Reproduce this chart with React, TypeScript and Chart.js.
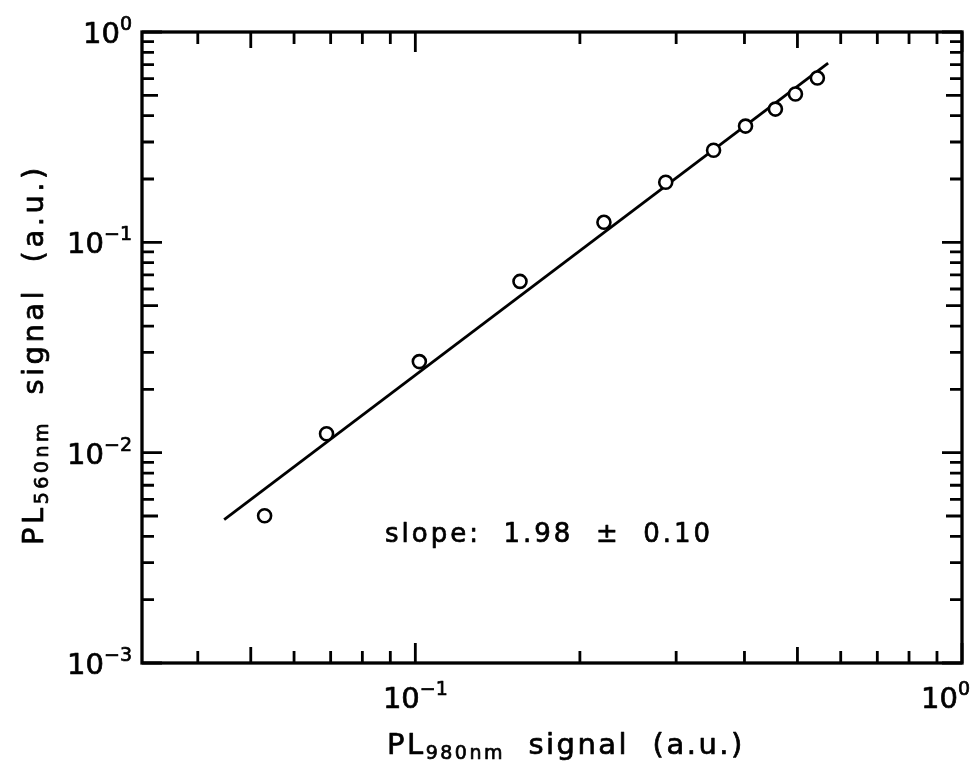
import { useEffect, useRef } from "react";
import { Chart, registerables } from "chart.js";

Chart.register(...registerables);

// ---- data ----
const pl980 = [0.053, 0.0688, 0.1017, 0.1554, 0.2213, 0.2871, 0.3512, 0.4018, 0.4557, 0.4958, 0.5438];
const pl560 = [0.00501, 0.0123, 0.0271, 0.0652, 0.1245, 0.193, 0.274, 0.357, 0.43, 0.507, 0.604];
const fitX = [0.0447, 0.569];
const fitY = [0.0048, 0.711];
const xLabelExponents = [-1, 0];
const yLabelExponents = [-3, -2, -1, 0];
const slopeText = "slope:  1.98  ±  0.10";
const xTitleParts = ["PL", "980nm", "  signal  (a.u.)"];
const yTitleParts = ["PL", "560nm", "  signal  (a.u.)"];

const X_MIN = Math.pow(10, -1.5);
const X_MAX = 1;
const Y_MIN = 1e-3;
const Y_MAX = 1;

const FONT = '"DejaVu Sans", "Liberation Sans", sans-serif';
const TEXT_STROKE = 0.7;

type Seg = { t: string; size: number; dy: number };

function segWidth(ctx: CanvasRenderingContext2D, segs: Seg[], spacing: number) {
  let w = 0;
  for (const s of segs) {
    ctx.font = `${s.size}px ${FONT}`;
    (ctx as any).letterSpacing = spacing + "px";
    w += ctx.measureText(s.t).width;
  }
  return w;
}

function drawSegs(ctx: CanvasRenderingContext2D, segs: Seg[], x: number, y: number, spacing: number) {
  let cx = x;
  ctx.lineWidth = TEXT_STROKE;
  ctx.lineJoin = "round";
  for (const s of segs) {
    ctx.font = `${s.size}px ${FONT}`;
    (ctx as any).letterSpacing = spacing + "px";
    ctx.fillText(s.t, cx, y + s.dy);
    ctx.strokeText(s.t, cx, y + s.dy);
    cx += ctx.measureText(s.t).width;
  }
}

function powSegs(exp: number): Seg[] {
  const e = exp < 0 ? "\u2212" + Math.abs(exp) : String(exp);
  return [
    { t: "10", size: 29, dy: 0 },
    { t: e, size: 19, dy: -13 },
  ];
}

const framePlugin = {
  id: "framePlugin",
  afterDatasetsDraw(chart: any) {
    const ctx: CanvasRenderingContext2D = chart.ctx;
    const { left, right, top, bottom } = chart.chartArea;
    const xs = chart.scales.x;
    const ys = chart.scales.y;
    ctx.save();
    ctx.strokeStyle = "#000";
    ctx.fillStyle = "#000";
    ctx.lineCap = "butt";

    // ticks (pointing inward on all four sides)
    ctx.lineWidth = 2.8;
    const tickLen = (m: number) => (m === 1 ? 20 : m === 5 ? 16 : 12);
    for (let d = -2; d <= 0; d++) {
      for (let m = 1; m <= 9; m++) {
        const v = m * Math.pow(10, d);
        if (v >= X_MIN * 0.999 && v <= X_MAX * 1.001) {
          const px = xs.getPixelForValue(v);
          const L = tickLen(m);
          ctx.beginPath();
          ctx.moveTo(px, bottom);
          ctx.lineTo(px, bottom - L);
          ctx.moveTo(px, top);
          ctx.lineTo(px, top + L);
          ctx.stroke();
        }
      }
    }
    for (let d = -3; d <= 0; d++) {
      for (let m = 1; m <= 9; m++) {
        const v = m * Math.pow(10, d);
        if (v >= Y_MIN * 0.999 && v <= Y_MAX * 1.001) {
          const py = ys.getPixelForValue(v);
          const L = tickLen(m);
          ctx.beginPath();
          ctx.moveTo(left, py);
          ctx.lineTo(left + L, py);
          ctx.moveTo(right, py);
          ctx.lineTo(right - L, py);
          ctx.stroke();
        }
      }
    }

    // frame
    ctx.lineWidth = 3.3;
    ctx.strokeRect(left, top, right - left, bottom - top);

    // tick labels
    ctx.textBaseline = "alphabetic";
    ctx.textAlign = "left";
    for (const e of yLabelExponents) {
      const py = ys.getPixelForValue(Math.pow(10, e));
      const segs = powSegs(e);
      const w = segWidth(ctx, segs, 0);
      drawSegs(ctx, segs, left - 10 - w, py + 11, 0);
    }
    for (const e of xLabelExponents) {
      const px = xs.getPixelForValue(Math.pow(10, e));
      const segs = powSegs(e);
      const w = segWidth(ctx, segs, 0);
      let x0 = px - w / 2;
      if (x0 + w > chart.width - 2) x0 = chart.width - 2 - w;
      drawSegs(ctx, segs, x0, bottom + 45, 0);
    }

    // slope annotation
    drawSegs(ctx, [{ t: slopeText, size: 26, dy: 0 }], left + 243, top + 510, 3);

    // x title
    const xt: Seg[] = [
      { t: xTitleParts[0], size: 29, dy: 0 },
      { t: xTitleParts[1], size: 19, dy: 5 },
      { t: xTitleParts[2], size: 29, dy: 0 },
    ];
    drawSegs(ctx, xt, 387, bottom + 91, 2.5);

    // y title (rotated)
    const yt: Seg[] = [
      { t: yTitleParts[0], size: 29, dy: 0 },
      { t: yTitleParts[1], size: 19, dy: 5 },
      { t: yTitleParts[2], size: 29, dy: 0 },
    ];
    ctx.translate(43, 545);
    ctx.rotate(-Math.PI / 2);
    drawSegs(ctx, yt, 0, 0, 3.5);
    ctx.restore();
  },
};

export default function App() {
  const ref = useRef<HTMLCanvasElement | null>(null);
  useEffect(() => {
    document.body.style.margin = "0";
    const canvas = ref.current;
    if (!canvas) return;
    const chart = new Chart(canvas, {
      type: "scatter",
      data: {
        datasets: [
          {
            label: "data",
            data: pl980.map((x, i) => ({ x, y: pl560[i] })),
            pointStyle: "circle",
            pointRadius: 6.5,
            pointBorderWidth: 2.6,
            pointBackgroundColor: "#fff",
            pointBorderColor: "#000",
            showLine: false,
          },
          {
            label: "fit",
            data: fitX.map((x, i) => ({ x, y: fitY[i] })),
            showLine: true,
            pointRadius: 0,
            borderColor: "#000",
            borderWidth: 2.8,
            fill: false,
          },
        ],
      },
      options: {
        responsive: false,
        animation: false,
        devicePixelRatio: 1,
        layout: { padding: { left: 142, right: 10, top: 32, bottom: 99 } },
        plugins: { legend: { display: false }, tooltip: { enabled: false }, title: { display: false } },
        scales: {
          x: { type: "logarithmic", min: X_MIN, max: X_MAX, display: false },
          y: { type: "logarithmic", min: Y_MIN, max: Y_MAX, display: false },
        },
      },
      plugins: [framePlugin],
    });
    return () => chart.destroy();
  }, []);
  return (
    <div style={{ position: "absolute", left: 0, top: 0, width: 972, height: 762, background: "#fff" }}>
      <canvas ref={ref} width={972} height={762} />
    </div>
  );
}
